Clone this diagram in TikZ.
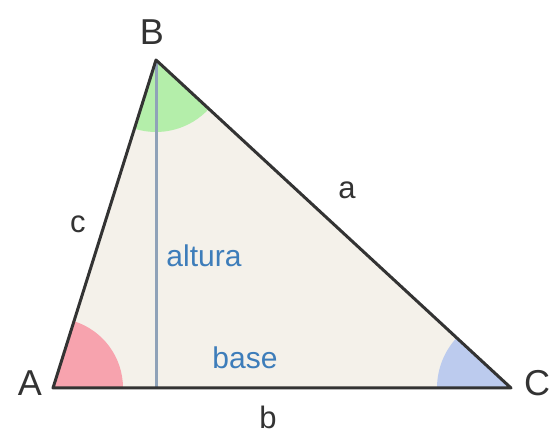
\documentclass[tikz,border=0pt]{standalone}
\usepackage{fontspec}
\setmainfont{Liberation Sans}
\definecolor{trifill}{HTML}{F4F1EA}
\definecolor{edge}{HTML}{333333}
\definecolor{altcol}{HTML}{8FA2B8}
\definecolor{txtblue}{HTML}{3D7DBA}
\definecolor{wred}{HTML}{F7A3AE}
\definecolor{wgreen}{HTML}{A9EE9F}
\definecolor{wblue}{HTML}{BCCBEE}
\tikzset{
  side/.style={draw=edge, line width=3pt, line join=round},
  vlabel/.style={font=\fontsize{36}{36}\selectfont, text=edge, inner sep=0pt},
  slabel/.style={font=\fontsize{31}{31}\selectfont, text=edge, inner sep=0pt},
  blabel/.style={font=\fontsize{30}{30}\selectfont, text=txtblue, inner sep=0pt},
}
\begin{document}
\begin{tikzpicture}[x=1pt, y=-1pt]
\useasboundingbox (0,0) rectangle (558,435);
\coordinate (A) at (53,388);
\coordinate (B) at (156,60);
\coordinate (C) at (511,388);
\coordinate (H) at (156,388);
% fill
\fill[trifill] (A) -- (B) -- (C) -- cycle;
% angle wedges (angles measured with y pointing down)
\fill[wred] (A) -- ++(-72.6:70) arc[start angle=-72.6, end angle=0, radius=70] -- cycle;
\fill[wgreen, opacity=0.85] (B) -- ++(107.4:72) arc[start angle=107.4, end angle=42.7, radius=72] -- cycle;
\fill[wblue] (C) -- ++(222.7:74) arc[start angle=222.7, end angle=180, radius=74] -- cycle;
% altitude
\draw[altcol, line width=3pt] (B) -- (H);
% sides
\draw[side] (A) -- (B) -- (C) -- cycle;
% labels
\node[vlabel] (lA) at (30,383) {A};
\node[vlabel] (lB) at (152,32) {B};
\node[vlabel] (lC) at (537,383) {C};
\node[slabel] (la) at (347,190) {a};
\node[slabel] (lb) at (268,417) {b};
\node[slabel] (lc) at (78,224) {c};
\node[blabel] (alt) at (204,256) {altura};
\node[blabel] (base) at (245,358) {base};
\end{tikzpicture}
\end{document}
